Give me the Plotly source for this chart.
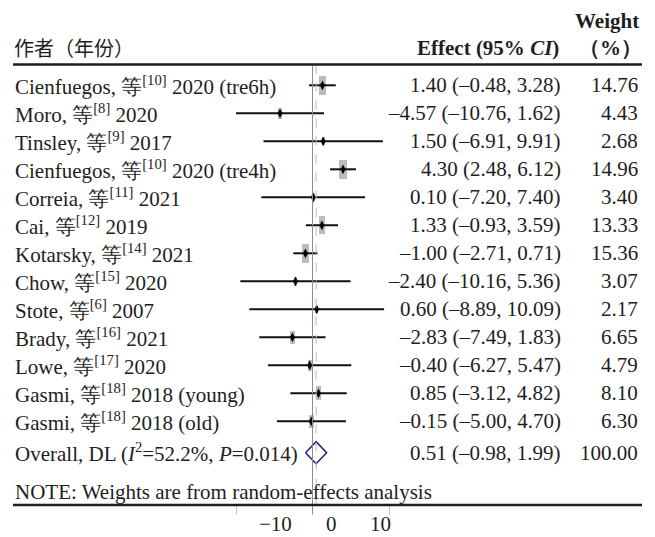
import plotly.graph_objects as go

# ---- study data -----------------------------------------------------------
authors = ["Cienfuegos", "Moro", "Tinsley", "Cienfuegos", "Correia", "Cai",
           "Kotarsky", "Chow", "Stote", "Brady", "Lowe", "Gasmi", "Gasmi"]
refs = ["10", "8", "9", "10", "11", "12", "14", "15", "6", "16", "17", "18", "18"]
years = ["2020", "2020", "2017", "2020", "2021", "2019", "2021", "2020",
         "2007", "2021", "2020", "2018", "2018"]
subgroups = ["(tre6h)", "", "", "(tre4h)", "", "", "", "", "", "", "",
             "(young)", "(old)"]

effect = [1.40, -4.57, 1.50, 4.30, 0.10, 1.33, -1.00, -2.40, 0.60, -2.83,
          -0.40, 0.85, -0.15]
ci_low = [-0.48, -10.76, -6.91, 2.48, -7.20, -0.93, -2.71, -10.16, -8.89,
          -7.49, -6.27, -3.12, -5.00]
ci_high = [3.28, 1.62, 9.91, 6.12, 7.40, 3.59, 0.71, 5.36, 10.09, 1.83,
           5.47, 4.82, 4.70]
weight = [14.76, 4.43, 2.68, 14.96, 3.40, 13.33, 15.36, 3.07, 2.17, 6.65,
          4.79, 8.10, 6.30]

overall_effect, overall_low, overall_high, overall_weight = 0.51, -0.98, 1.99, 100.00
overall_label = "Overall, DL (<i>I</i><sup>2</sup>=52.2%, <i>P</i>=0.014)"

axis_ticks = [-10, 0, 10]
axis_ticktext = ["\u221210", "0", "10"]

# ---- layout geometry (pixels) --------------------------------------------
W, H = 655, 537
X0_PX, PX_PER_UNIT = 312.5, 7.1        # forest-plot x scale
ROW0_PX, ROW_PX = 85.3, 28.0           # first row centre and row pitch
AX0_PX, AX_PX_PER_UNIT = 312.7, 7.66   # bottom scale
TOP_RULE, BOTTOM_RULE = 64.5, 505.0
LEFT_PX, RIGHT_PX = 13, 642
EFFECT_RIGHT, WEIGHT_RIGHT = 562.5, 639.5

SERIF = "Liberation Serif"
CJK = "Noto Sans CJK SC"
INK = "#1e1e1e"
FS = 21


def px(p):
    return p / W


def py(p):
    return 1 - p / H


def fmt(v):
    return f"{v:.2f}".replace("-", "\u2013")


n = len(effect)
rows = list(range(n))
overall_row = n + 0.12

fig = go.Figure()

# weight boxes: area proportional to the study weight
box_w = [1.85 * w ** 0.5 / PX_PER_UNIT for w in weight]
box_h = [4.95 * w ** 0.5 / ROW_PX for w in weight]
fig.add_trace(go.Bar(
    orientation="h", y=rows, x=box_w,
    base=[e - bw / 2 for e, bw in zip(effect, box_w)],
    width=box_h, marker=dict(color="#bcbcbc", line=dict(width=0)),
    hoverinfo="skip", showlegend=False,
))

# confidence intervals with point estimates
fig.add_trace(go.Scatter(
    x=effect, y=rows, mode="markers",
    marker=dict(symbol="diamond-tall", size=7, color="#000000"),
    error_x=dict(type="data", symmetric=False,
                 array=[h - e for h, e in zip(ci_high, effect)],
                 arrayminus=[e - l for e, l in zip(effect, ci_low)],
                 color="#111111", thickness=2, width=0),
    showlegend=False, hoverinfo="skip",
))

# pooled estimate diamond
half = 11 / ROW_PX
fig.add_trace(go.Scatter(
    x=[overall_low, overall_effect, overall_high, overall_effect, overall_low],
    y=[overall_row, overall_row - half, overall_row, overall_row + half, overall_row],
    mode="lines", line=dict(color="#1f1f86", width=1.5),
    showlegend=False, hoverinfo="skip",
))

# invisible trace to carry the bottom scale
fig.add_trace(go.Scatter(x=[0], y=[0], xaxis="x2", mode="markers",
                         marker=dict(opacity=0), showlegend=False,
                         hoverinfo="skip"))

shapes = [
    # null line and pooled-effect reference line
    dict(type="line", xref="x", yref="paper", x0=0, x1=0,
         y0=py(TOP_RULE), y1=py(BOTTOM_RULE + 9),
         line=dict(color="#8c8c8c", width=1)),
    dict(type="line", xref="x", yref="paper", x0=overall_effect, x1=overall_effect,
         y0=py(TOP_RULE), y1=py(BOTTOM_RULE),
         line=dict(color="#d4b0b0", width=1, dash="dash")),
    # horizontal rules
    dict(type="line", xref="paper", yref="paper", x0=px(LEFT_PX), x1=px(RIGHT_PX),
         y0=py(TOP_RULE), y1=py(TOP_RULE), line=dict(color=INK, width=2.5)),
    dict(type="line", xref="paper", yref="paper", x0=px(LEFT_PX), x1=px(RIGHT_PX),
         y0=py(BOTTOM_RULE), y1=py(BOTTOM_RULE), line=dict(color=INK, width=2.5)),
]

annotations = []


def note(text, x, y, xanchor, yref="paper", size=FS, family=SERIF, color=INK):
    annotations.append(dict(text=text, x=x, y=y, xref="paper", yref=yref,
                            xanchor=xanchor, yanchor="middle", showarrow=False,
                            font=dict(family=family, size=size, color=color)))


# headers
note("作者（年份）", px(LEFT_PX - 1), py(47.5), "left", size=20, family=CJK)
note("<b>Effect (95% <i>CI</i>)</b>", px(EFFECT_RIGHT - 2), py(48), "right")
note("<b>Weight</b>", px(WEIGHT_RIGHT + 1), py(21), "right")
note("<b>（%）</b>", px(WEIGHT_RIGHT + 4), py(48), "right")

# study rows
for i in rows:
    label = f"{authors[i]}, 等<sup>[{refs[i]}]</sup> {years[i]}"
    if subgroups[i]:
        label += " " + subgroups[i]
    note(label, px(LEFT_PX), i, "left", yref="y")
    note(f"{fmt(effect[i])} ({fmt(ci_low[i])}, {fmt(ci_high[i])})",
         px(EFFECT_RIGHT), i, "right", yref="y")
    note(f"{weight[i]:.2f}", px(WEIGHT_RIGHT), i, "right", yref="y")

# pooled row
note(overall_label, px(LEFT_PX), overall_row, "left", yref="y")
note(f"{fmt(overall_effect)} ({fmt(overall_low)}, {fmt(overall_high)})",
     px(EFFECT_RIGHT), overall_row, "right", yref="y")
note(f"{overall_weight:.2f}", px(WEIGHT_RIGHT), overall_row, "right", yref="y")

note("NOTE: Weights are from random-effects analysis", px(LEFT_PX), py(492), "left")

# bottom scale labels
for t, px_pos in zip(axis_ticktext, [275, 331, 380]):
    note(t, px(px_pos), py(524), "center")

fig.update_layout(
    width=W, height=H, margin=dict(l=0, r=0, t=0, b=0),
    paper_bgcolor="white", plot_bgcolor="white",
    font=dict(family=SERIF, color=INK),
    barmode="overlay", bargap=0,
    xaxis=dict(range=[-X0_PX / PX_PER_UNIT, (W - X0_PX) / PX_PER_UNIT],
               domain=[0, 1], visible=False, fixedrange=True),
    xaxis2=dict(range=[-AX0_PX / AX_PX_PER_UNIT, (W - AX0_PX) / AX_PX_PER_UNIT],
                overlaying="x", anchor="free", position=py(BOTTOM_RULE),
                side="bottom", tickvals=axis_ticks, ticks="outside", ticklen=9,
                tickcolor="#c4c4c4", tickwidth=1, showticklabels=False,
                showline=False, showgrid=False, zeroline=False, fixedrange=True),
    yaxis=dict(range=[(H - ROW0_PX) / ROW_PX, -ROW0_PX / ROW_PX],
               domain=[0, 1], visible=False, fixedrange=True),
    shapes=shapes, annotations=annotations, showlegend=False,
)

fig.write_html("out.html")
